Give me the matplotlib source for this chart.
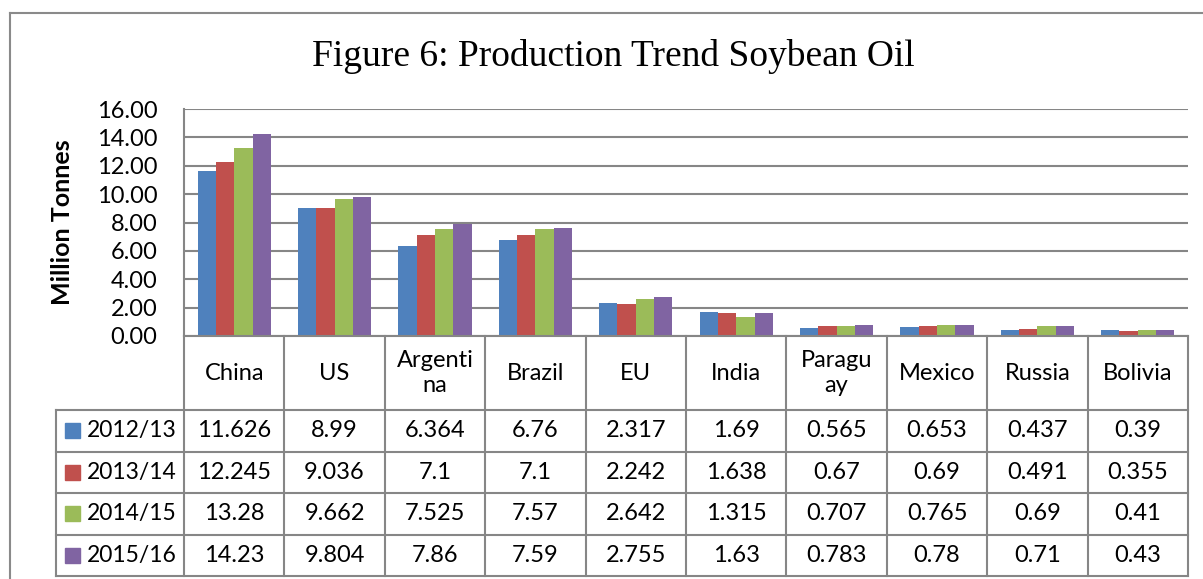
import matplotlib
matplotlib.use("Agg")
import matplotlib.pyplot as plt
from matplotlib.patches import Rectangle
from matplotlib.lines import Line2D

# ---- data ----
categories = ["China", "US", "Argentina", "Brazil", "EU", "India",
              "Paraguay", "Mexico", "Russia", "Bolivia"]
category_labels = ["China", "US", "Argenti\nna", "Brazil", "EU", "India",
                   "Paragu\nay", "Mexico", "Russia", "Bolivia"]
series_names = ["2012/13", "2013/14", "2014/15", "2015/16"]
v_2012 = [11.626, 8.99, 6.364, 6.76, 2.317, 1.69, 0.565, 0.653, 0.437, 0.39]
v_2013 = [12.245, 9.036, 7.1, 7.1, 2.242, 1.638, 0.67, 0.69, 0.491, 0.355]
v_2014 = [13.28, 9.662, 7.525, 7.57, 2.642, 1.315, 0.707, 0.765, 0.69, 0.41]
v_2015 = [14.23, 9.804, 7.86, 7.59, 2.755, 1.63, 0.783, 0.78, 0.71, 0.43]
series_values = [v_2012, v_2013, v_2014, v_2015]
y_ticks = [0, 2, 4, 6, 8, 10, 12, 14, 16]

colors = ["#4F81BD", "#C0504D", "#9BBB59", "#8064A2"]
GRID = "#868686"
SANS = ["Lato", "DejaVu Sans"]
SERIF = ["Liberation Serif", "DejaVu Serif"]

W, H = 1203, 579
fig = plt.figure(figsize=(W / 100, H / 100), dpi=100)
fig.patch.set_facecolor("white")

# pixel layout
L, R = 184, 1188
TOP, BOT = 109, 336

ax = fig.add_axes([L / W, 1 - BOT / H, (R - L) / W, (BOT - TOP) / H])
n = len(categories)
k = len(series_values)
gw = 0.73
bw = gw / k
for j, vals in enumerate(series_values):
    xs = [i - gw / 2 + bw * (j + 0.5) for i in range(n)]
    ax.bar(xs, vals, width=bw, color=colors[j], edgecolor="none", zorder=3)
ax.set_xlim(-0.5, n - 0.5)
ax.set_ylim(0, 16)
ax.set_yticks(y_ticks)
ax.set_yticklabels([f"{t:.2f}" for t in y_ticks], fontsize=17, family=SANS)
ax.set_xticks([])
ax.tick_params(axis="y", length=0, pad=19)
for yt in y_ticks:
    ax.axhline(yt, color=GRID, lw=1.5, zorder=1)
for s in ["top", "right", "bottom"]:
    ax.spines[s].set_visible(False)
ax.spines["left"].set_color(GRID)
ax.spines["left"].set_linewidth(1.5)

# overlay for table, title, frame
ov = fig.add_axes([0, 0, 1, 1])
ov.set_xlim(0, W)
ov.set_ylim(H, 0)
ov.axis("off")
ov.patch.set_alpha(0)

def hline(x0, x1, y):
    ov.add_line(Line2D([x0, x1], [y, y], color=GRID, lw=1.5))

def vline(x, y0, y1):
    ov.add_line(Line2D([x, x], [y0, y1], color=GRID, lw=1.5))

# outer frame
ov.add_line(Line2D([10, 10], [H + 5, 13], color="#8a8a8a", lw=1.5))
ov.add_line(Line2D([10, W + 5], [13, 13], color="#8a8a8a", lw=1.5))

# title & y label
ov.text(613, 57, "Figure 6: Production Trend Soybean Oil", fontsize=27,
        family=SERIF, ha="center", va="center")
ov.text(62, 222, "Million Tonnes", fontsize=18, fontweight="bold",
        family=SANS, rotation=90, ha="center", va="center")

# table
LEG = 56
rows_y = [336, 410, 451.5, 493, 534.5, 576]
cw = (R - L) / n
col_x = [L + i * cw for i in range(n + 1)]
hline(L, R, rows_y[0])
for y in rows_y[1:]:
    hline(LEG, R, y)
for x in col_x:
    vline(x, rows_y[0], rows_y[-1])
vline(LEG, rows_y[1], rows_y[-1])

for i, lab in enumerate(category_labels):
    ov.text((col_x[i] + col_x[i + 1]) / 2, (rows_y[0] + rows_y[1]) / 2, lab,
            fontsize=17, family=SANS, ha="center", va="center",
            linespacing=1.2)

for j, vals in enumerate(series_values):
    yc = (rows_y[j + 1] + rows_y[j + 2]) / 2
    ov.add_patch(Rectangle((65, yc - 7.5), 15, 15, color=colors[j]))
    ov.text(87, yc, series_names[j], fontsize=16.5, family=SANS,
            ha="left", va="center")
    for i, v in enumerate(vals):
        ov.text((col_x[i] + col_x[i + 1]) / 2, yc, f"{v:g}", fontsize=17,
                family=SANS, ha="center", va="center")

fig.savefig("out.png", dpi=100)
